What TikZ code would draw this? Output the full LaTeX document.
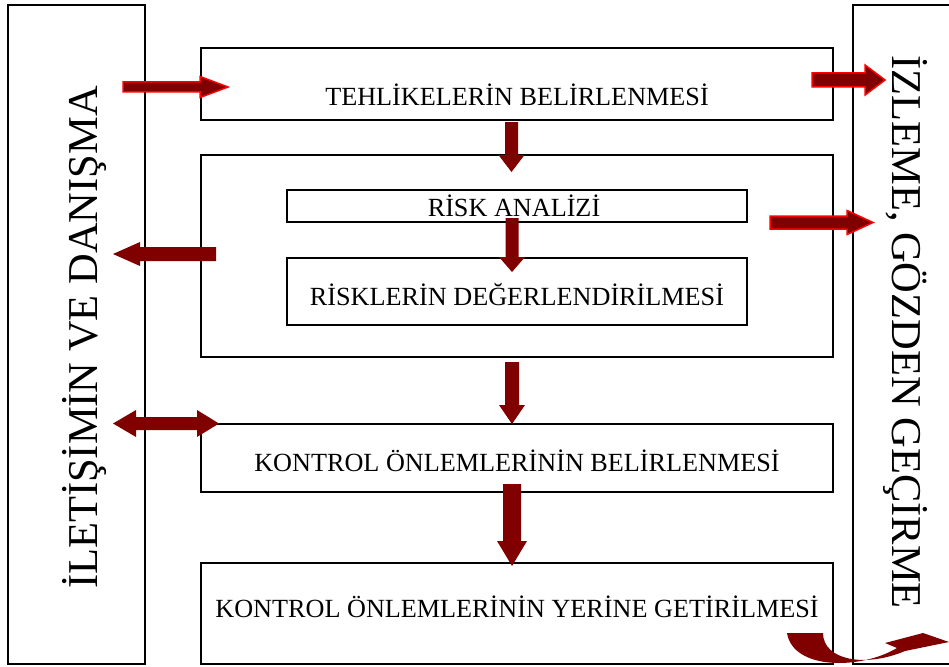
\documentclass[tikz,border=0pt]{standalone}
\usepackage{fontspec}
\setmainfont{Liberation Serif}
\definecolor{darkred}{RGB}{128,0,0}
\newcommand{\harr}[7]{\path[#1] (#2,{#5-#6}) -- (#3,{#5-#6}) -- (#3,{#5-#7}) -- (#4,#5) -- (#3,{#5+#7}) -- (#3,{#5+#6}) -- (#2,{#5+#6}) -- cycle;}
\newcommand{\varr}[7]{\path[#1] ({#2-#6},#3) -- ({#2-#6},#4) -- ({#2-#7},#4) -- (#2,#5) -- ({#2+#7},#4) -- ({#2+#6},#4) -- ({#2+#6},#3) -- cycle;}
\tikzset{
  frame/.style={draw=black, line width=1.9pt, fill=none},
  boxlabel/.style={anchor=base, inner sep=0pt, font=\fontsize{26.2}{30}\selectfont},
  sidelabel/.style={anchor=base, inner sep=0pt, font=\fontsize{42.5}{48}\selectfont},
  redarrow/.style={fill=darkred, draw=red, line width=1.5pt, line join=miter},
  plainarrow/.style={fill=darkred, draw=none},
}
\begin{document}
\begin{tikzpicture}[x=1pt, y=-1pt]
\useasboundingbox (0,0) rectangle (949,666);
\clip (0,0) rectangle (949,666);
% side frames
\draw[frame] (8,5) rectangle (145,664);
\draw[frame] (853,5) rectangle (960,664);
\node[sidelabel, rotate=90] (iletisim) at (97,337.5) {İLETİŞİMİN VE DANIŞMA};
\node[sidelabel, rotate=-90] (izleme) at (892,332) {İZLEME, GÖZDEN GEÇİRME};
% boxes
\draw[frame] (201,48) rectangle (833,120);
\draw[frame] (201,155) rectangle (833,357);
\draw[frame] (287,190) rectangle (747,222);
\draw[frame] (287,258) rectangle (747,325);
\draw[frame] (201,424) rectangle (833,492);
\draw[frame] (201,563) rectangle (833,664);
\node[boxlabel] (tehlike) at (517,106) {TEHLİKELERİN BELİRLENMESİ};
\node[boxlabel] (analiz) at (514,216) {RİSK ANALİZİ};
\node[boxlabel] (degerlendirme) at (517,305) {RİSKLERİN DEĞERLENDİRİLMESİ};
\node[boxlabel] (kontrolbel) at (517,471) {KONTROL ÖNLEMLERİNİN BELİRLENMESİ};
\node[boxlabel] (kontrolyer) at (517,617) {KONTROL ÖNLEMLERİNİN YERİNE GETİRİLMESİ};
% red outlined arrows
\harr{redarrow}{123}{200}{228}{87}{5}{10.5}
\harr{redarrow}{812}{865}{885}{80}{7}{15}
\harr{redarrow}{770}{847}{873}{222.5}{6.5}{12}
% plain arrows
\harr{plainarrow}{216}{140}{113}{254}{7}{12}
\path[plainarrow] (113,423.5) -- (136,410) -- (136,417) -- (197,417) -- (197,410) -- (219,423.5) -- (197,437) -- (197,430) -- (136,430) -- (136,437) -- cycle;
\varr{plainarrow}{511.5}{122}{155}{172}{6.5}{13}
\varr{plainarrow}{512}{218}{257}{272}{6.5}{13}
\varr{plainarrow}{512}{362}{405}{424}{7}{13}
\varr{plainarrow}{512}{484}{541}{566}{9}{15}
% curved arrow
\path[plainarrow] (787,633) .. controls (793,670) and (860,670) .. (897,648)
  -- (885,643) -- (923,633) -- (949,642) -- (905,651)
  .. controls (865,668) and (823,660) .. (823,633) -- cycle;
\end{tikzpicture}
\end{document}
